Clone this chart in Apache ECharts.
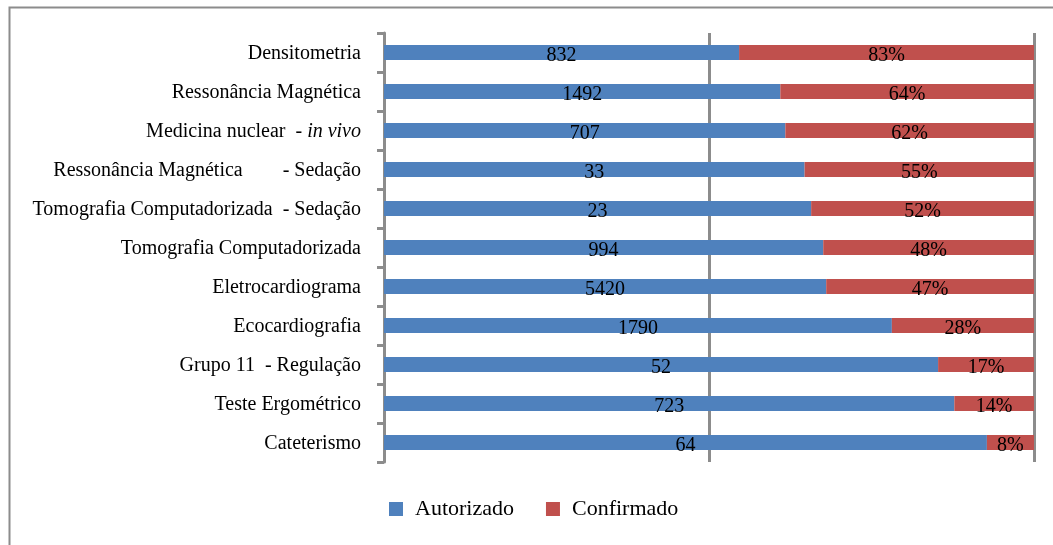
<!DOCTYPE html>
<html>
<head>
<meta charset="utf-8">
<script src="https://cdn.jsdelivr.net/npm/echarts@6/dist/echarts.min.js"></script>
<style>
  html, body { margin: 0; padding: 0; background: #fff; }
  #chart { width: 1053px; height: 545px; }
</style>
</head>
<body>
<div id="chart"></div>
<script>
// categories, top to bottom
const categories = [
  'Densitometria',
  'Ressonância Magnética',
  'Medicina nuclear  - {it|in vivo}',
  'Ressonância Magnética        - Sedação',
  'Tomografia Computadorizada  - Sedação',
  'Tomografia Computadorizada',
  'Eletrocardiograma',
  'Ecocardiografia',
  'Grupo 11  - Regulação',
  'Teste Ergométrico',
  'Cateterismo'
];
// autorizado counts (blue labels)
const autorizado = [832, 1492, 707, 33, 23, 994, 5420, 1790, 52, 723, 64];
// confirmado counts (estimated)
const confirmado = [691, 955, 438, 18, 12, 477, 2547, 501, 9, 101, 5];
// confirmado percentage labels
const confirmadoPct = ['83%', '64%', '62%', '55%', '52%', '48%', '47%', '28%', '17%', '14%', '8%'];

const BLUE = '#4f81bd';
const RED = '#c0504d';
const GRAY = '#8c8c8c';
const FONT = '"Liberation Serif", "DejaVu Serif", serif';

// 100% stacked: share of each row
const blueShare = autorizado.map((a, i) => a / (a + confirmado[i]));
const redShare = confirmado.map((c, i) => c / (autorizado[i] + c));

const chart = echarts.init(document.getElementById('chart'), null, { renderer: 'canvas' });

chart.setOption({
  backgroundColor: '#fff',
  animation: false,
  textStyle: { fontFamily: FONT },
  graphic: [{
    type: 'rect',
    shape: { x: 9.5, y: 7.5, width: 1100, height: 600 },
    style: { fill: 'none', stroke: GRAY, lineWidth: 2 },
    silent: true
  }],
  grid: { left: 384, right: 19, top: 33, bottom: 83, containLabel: false },
  legend: {
    bottom: 20,
    left: 384,
    itemWidth: 14,
    itemHeight: 14,
    itemGap: 32,
    icon: 'rect',
    textStyle: { fontFamily: FONT, fontSize: 22, color: '#000', padding: [0, 0, 0, 7] },
    data: ['Autorizado', 'Confirmado']
  },
  xAxis: {
    type: 'value',
    min: 0,
    max: 1,
    interval: 0.5,
    axisLine: { show: false },
    axisTick: { show: false },
    axisLabel: { show: false },
    splitLine: { show: true, lineStyle: { color: GRAY, width: 3 } }
  },
  yAxis: {
    type: 'category',
    inverse: true,
    data: categories,
    axisLine: { show: true, lineStyle: { color: GRAY, width: 3 } },
    axisTick: { show: true, length: 7, lineStyle: { color: GRAY, width: 3 } },
    axisLabel: {
      margin: 23,
      fontFamily: FONT,
      fontSize: 20,
      color: '#000',
      padding: [3, 0, 0, 0],
      rich: {
        it: { fontFamily: FONT, fontSize: 20, fontStyle: 'italic', color: '#000' }
      }
    }
  },
  series: [
    {
      name: 'Autorizado',
      type: 'bar',
      stack: 'total',
      barWidth: 15,
      itemStyle: { color: BLUE },
      label: {
        show: true,
        position: 'inside',
        offset: [0, 3],
        color: '#000',
        fontFamily: FONT,
        fontSize: 20,
        formatter: p => String(autorizado[p.dataIndex])
      },
      data: blueShare
    },
    {
      name: 'Confirmado',
      type: 'bar',
      stack: 'total',
      barWidth: 15,
      itemStyle: { color: RED },
      label: {
        show: true,
        position: 'inside',
        offset: [0, 3],
        color: '#000',
        fontFamily: FONT,
        fontSize: 20,
        formatter: p => confirmadoPct[p.dataIndex]
      },
      data: redShare
    }
  ]
});
</script>
</body>
</html>
